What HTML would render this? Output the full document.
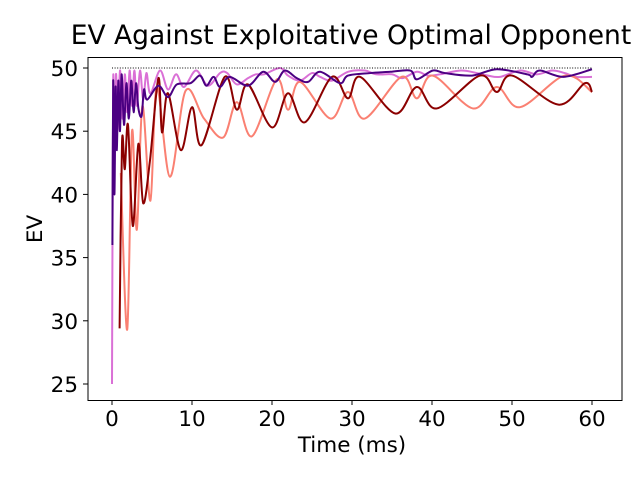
<!DOCTYPE html>
<html><head><meta charset="utf-8"><style>
body{margin:0;background:#fff}
svg text{font-family:"DejaVu Sans","Liberation Sans",sans-serif;fill:#000}
</style></head><body>
<svg id="chart" width="640" height="480" viewBox="0 0 640 480" xmlns="http://www.w3.org/2000/svg">
<rect width="640" height="480" fill="#fff"/>
<text x="351" y="44" style="font-size:26.5px" text-anchor="middle">EV Against Exploitative Optimal Opponent</text>
<text x="352" y="452" style="font-size:21.5px" text-anchor="middle">Time (ms)</text>
<text x="0" y="0" style="font-size:21.5px" text-anchor="middle" transform="translate(42,229) rotate(-90)">EV</text>
<g id="plot"></g>
<rect x="88" y="57.5" width="534" height="343" fill="none" stroke="#000" stroke-width="1"/>
</svg>
<script>
const xTicks=[0,10,20,30,40,50,60];
const yTicks=[25,30,35,40,45,50];
const optimalValue=50;
const orchidT=[0,0.15,0.3,0.5,0.7,1,1.3,1.6,1.9,2.2,2.5,2.8,3.1,3.5,3.9,4.3,4.8,6,7,8,9,10.5,12,13.5,14.4,15.6,17,18,19,21,22,23.5,25,26,27.5,29.5,31.6,33,35,36.3,38.1,39.5,41,43.6,45.6,47,48.5,51,53.1,55,56.6,58,60];
const orchidV=[25,49,42,49.5,45,49.8,46,49.5,46.5,49.8,47,49.8,47,49.8,47.5,49.6,48,49.8,48.3,49.5,48.5,49.8,48.6,49.6,49.6,48.7,49.2,49.5,49.5,50,49.4,49,49.6,49.3,49,49.7,49.8,49.5,49.5,49.2,49.7,49.4,49.5,49.8,49.6,49.4,49.3,49.8,49.5,49.8,49.6,49.3,49.3];
const salmonT=[1.1,1.9,2.5,3.1,3.8,4.8,5.6,7.25,9.2,11.5,13.9,15.6,17.5,20.6,22,23.5,27.3,29.5,31.6,36.2,38.1,40.1,45.1,48.1,51,56.6,60];
const salmonV=[41.7,29.3,45,37.2,47,39.5,48.5,41.4,48.2,46,44.5,47.3,44.6,49.1,46.7,48.9,46,48.1,46,49.3,47.6,49.4,46.8,48.5,46.9,49.4,48.1];
const darkredT=[0.95,1.25,1.6,2.0,2.6,3.3,3.9,4.75,5.8,6.25,7,8.6,10,11.2,14.1,15.6,17,20,22,24.1,27.5,29.5,31,35.4,38.1,40.6,46,48.1,50,55.8,59.1,60];
const darkredV=[29.4,44.1,42,45.5,37.5,44,39.3,42.7,49.2,44.9,48,43.5,46.9,43.9,49.3,46.7,48.7,45.3,48,45.7,49.3,47.6,49.3,46.4,48.5,46.8,49.4,48.1,49.4,47.1,48.8,48.1];
const indigoT=[0.05,0.15,0.3,0.45,0.6,0.8,1.0,1.2,1.5,1.8,2.1,2.4,2.7,3.0,3.3,3.7,4.0,4.4,5.8,7,8.1,9.8,11,11.8,12.7,13.5,14.7,17,18.9,20.4,21.6,23.1,24.5,26,28.5,29.5,32.3,34.8,37.3,38.1,40.1,41.6,45,48.1,51.9,52.5,53.5,56.4,60];
const indigoV=[36,49,40,48.5,43.5,49,45,49.5,45.5,48.8,46,49,46.5,48.8,46.8,46.2,48.3,47.5,48.6,47.7,48.7,48.8,49.4,48.6,49.3,48.5,49.3,48.6,49.7,48.9,49.8,49.2,48.9,49.7,48.8,49.4,49.6,49.7,49.8,49.1,49.8,49.6,49.4,49.9,49.5,49.3,49.8,49.3,49.9];

const X0=112,XS=8,Y0=68,YS=12.64;
function xs(t){return X0+t*XS;}
function ys(v){return Y0+(50-v)*YS;}
const NS="http://www.w3.org/2000/svg";
const plot=document.getElementById('plot');
function mk(tag,attrs){const e=document.createElementNS(NS,tag);for(const k in attrs)e.setAttribute(k,attrs[k]);return e;}

xTicks.forEach(t=>{
  const l=mk('line',{x1:xs(t),x2:xs(t),y1:400.5,y2:405,stroke:'#000'});
  
  
  plot.appendChild(l);
  const tx=mk('text',{x:xs(t),y:426,style:'font-size:21.5px','text-anchor':'middle'});
  tx.textContent=t;
  
  
  plot.appendChild(tx);
});
yTicks.forEach(v=>{
  const l=mk('line',{x1:83,x2:88,y1:ys(v),y2:ys(v),stroke:'#000'});
  
  
  plot.appendChild(l);
  const tx=mk('text',{x:78,y:ys(v)+8,style:'font-size:21.5px','text-anchor':'end'});
  tx.textContent=v;
  
  
  plot.appendChild(tx);
});

function smoothPath(T,V){
  const p=T.map((t,i)=>[xs(t),ys(V[i])]);
  let d='M'+p[0][0].toFixed(2)+','+p[0][1].toFixed(2);
  for(let i=0;i<p.length-1;i++){
    const a=p[i-1]||p[i],b=p[i],c=p[i+1],e=p[i+2]||c;
    const c1=[b[0]+(c[0]-a[0])/6,b[1]+(c[1]-a[1])/6];
    const c2=[c[0]-(e[0]-b[0])/6,c[1]-(e[1]-b[1])/6];
    d+=' C'+c1[0].toFixed(2)+','+c1[1].toFixed(2)+' '+c2[0].toFixed(2)+','+c2[1].toFixed(2)+' '+c[0].toFixed(2)+','+c[1].toFixed(2);
  }
  return d;
}
const series=[
  {T:orchidT,V:orchidV,c:'#DA70D6',n:'orchid-series'},
  {T:salmonT,V:salmonV,c:'#FA8072',n:'salmon-series'},
  {T:darkredT,V:darkredV,c:'#8B0000',n:'darkred-series'},
  {T:indigoT,V:indigoV,c:'#4B0082',n:'indigo-series'}
];
series.forEach(s=>{
  const p=mk('path',{d:smoothPath(s.T,s.V),fill:'none',stroke:s.c,'stroke-width':2,'stroke-linejoin':'round'});
  
  
  plot.appendChild(p);
});
const opt=mk('line',{x1:xs(0),x2:xs(60),y1:ys(optimalValue),y2:ys(optimalValue),stroke:'#000','stroke-width':1,'stroke-dasharray':'1,1.6'});


plot.appendChild(opt);
</script>
</body></html>
